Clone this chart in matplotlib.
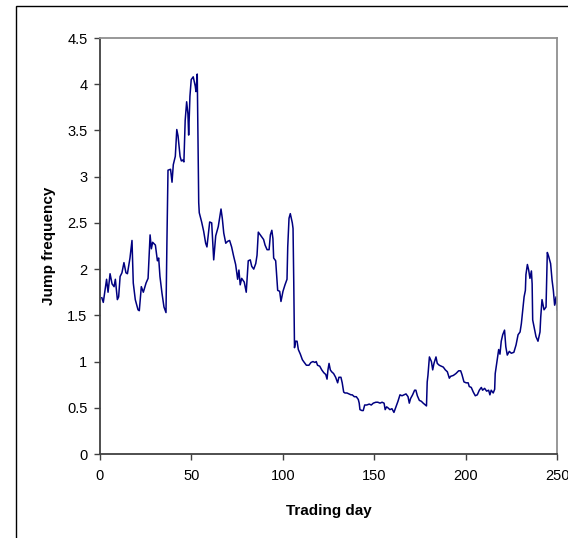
import matplotlib
matplotlib.use("Agg")
import matplotlib.pyplot as plt
from matplotlib.patches import Rectangle

plt.rcParams['font.family'] = ['Liberation Sans', 'DejaVu Sans']

# Jump frequency per trading day
day = [1, 1.8, 3.6, 4.4, 5.5, 6.6, 7.7, 8.4, 9.5, 10.2, 11.0, 12.0, 13.1, 14.2, 15.0,
       16.4, 17.5, 18.2, 19.3, 20.8, 21.5, 22.6, 23.7, 25.2, 26.3, 27.4, 28.1, 28.8,
       30.3, 31.0, 31.4, 32.1, 32.8, 33.9, 35.0, 36.1, 36.6, 37.2, 38.6, 39.4, 40.1,
       41.2, 42.0, 42.7, 43.8, 44.5, 45.2, 45.9, 46.6, 47.4, 48.1, 48.5, 49.2, 49.9,
       51.0, 52.1, 52.5, 53.2, 53.6, 54.0, 54.3, 55.6, 56.7, 57.8, 58.5, 60.0, 61.1,
       62.2, 63.3, 64.7, 66.2, 66.9, 67.7, 68.8, 69.8, 70.9, 72.0, 73.1, 74.2, 75.3,
       76.0, 76.7, 77.5, 78.9, 80.0, 81.1, 82.2, 83.0, 84.1, 85.2, 85.9, 86.6, 87.7,
       88.4, 89.5, 90.3, 91.4, 92.5, 93.2, 94.0, 94.6, 95.0, 96.1, 97.2, 98.3, 99.0,
       100.1, 101.2, 102.3, 102.7, 103.4, 104.1, 105.2, 105.6, 106.0, 106.4, 107.0,
       107.8, 108.5, 109.6, 110.7, 111.4, 112.9, 114.3, 115.4, 116.5, 117.6, 118.3,
       119.0, 120.2, 121.3, 122.4, 123.5, 124.2, 124.7, 125.3, 126.0, 126.7, 127.8,
       128.9, 130.0, 130.7, 131.8, 132.5, 133.3, 134.0, 135.1, 136.2, 137.3, 138.0,
       139.1, 140.2, 141.3, 141.8, 142.2, 143.3, 144.0, 144.8, 145.9, 147.3, 148.4,
       149.5, 150.9, 152.0, 153.2, 154.3, 155.4, 156.0, 156.8, 157.5, 158.6, 159.7,
       160.8, 161.9, 163.0, 164.1, 165.2, 166.3, 167.4, 168.5, 169.2, 169.9, 171.0,
       172.1, 172.8, 173.6, 174.7, 175.8, 176.8, 178.0, 178.6, 179.0, 179.4, 180.2,
       181.3, 182.0, 182.7, 183.8, 184.5, 185.6, 186.7, 187.8, 188.9, 190.0, 191.1,
       191.8, 193.3, 194.7, 196.2, 197.3, 198.0, 199.1, 200.3, 201.4, 202.0, 203.1,
       204.2, 205.3, 206.4, 207.5, 208.6, 209.3, 210.4, 211.5, 212.6, 213.3, 214.0,
       215.1, 215.9, 216.2, 217.0, 218.1, 218.8, 219.5, 220.3, 221.3, 222.0, 222.8,
       223.9, 225.0, 226.4, 227.6, 228.7, 229.8, 230.5, 231.3, 232.0, 232.7, 233.0,
       233.8, 234.5, 235.2, 236.0, 236.4, 236.7, 237.5, 238.5, 239.6, 240.7, 241.1,
       241.8, 242.9, 244.0, 244.7, 245.4, 246.5, 247.3, 248.0, 248.7, 249.5, 250.0]
freq = [1.69, 1.64, 1.89, 1.75, 1.95, 1.84, 1.81, 1.89, 1.67, 1.70, 1.92, 1.96, 2.07, 1.96, 1.95,
        2.12, 2.31, 1.85, 1.67, 1.56, 1.55, 1.81, 1.75, 1.85, 1.90, 2.37, 2.22, 2.29,
        2.26, 2.15, 2.09, 2.12, 1.92, 1.74, 1.59, 1.53, 2.28, 3.07, 3.08, 2.94, 3.13,
        3.22, 3.51, 3.44, 3.22, 3.17, 3.18, 3.16, 3.61, 3.81, 3.68, 3.45, 3.87, 4.05,
        4.08, 3.98, 3.92, 4.11, 3.43, 2.72, 2.61, 2.51, 2.41, 2.28, 2.24, 2.51, 2.50,
        2.10, 2.36, 2.46, 2.65, 2.55, 2.39, 2.28, 2.30, 2.31, 2.24, 2.14, 2.05, 1.89,
        1.99, 1.83, 1.90, 1.86, 1.75, 2.09, 2.10, 2.03, 2.00, 2.06, 2.15, 2.40, 2.37,
        2.35, 2.32, 2.26, 2.21, 2.21, 2.37, 2.42, 2.33, 2.12, 2.09, 1.77, 1.76, 1.65,
        1.76, 1.83, 1.89, 2.24, 2.55, 2.60, 2.50, 2.44, 1.85, 1.15, 1.22,
        1.22, 1.13, 1.08, 1.02, 1.00, 0.96, 0.96, 0.99, 1.00, 0.99, 1.00,
        0.96, 0.95, 0.91, 0.88, 0.86, 0.81, 0.91, 0.98, 0.91, 0.89, 0.87,
        0.83, 0.77, 0.83, 0.83, 0.77, 0.67, 0.66, 0.66, 0.65, 0.64, 0.64,
        0.62, 0.62, 0.59, 0.55, 0.48, 0.47, 0.47, 0.53, 0.53, 0.54, 0.53,
        0.55, 0.56, 0.56, 0.55, 0.56, 0.55, 0.48, 0.51, 0.50, 0.48, 0.49,
        0.45, 0.51, 0.57, 0.64, 0.63, 0.64, 0.65, 0.62, 0.55, 0.60, 0.64,
        0.69, 0.69, 0.63, 0.58, 0.57, 0.55, 0.53, 0.52, 0.78, 0.85, 1.05,
        1.00, 0.91, 0.98, 1.05, 0.98, 0.96, 0.95, 0.94, 0.91, 0.89, 0.82,
        0.84, 0.85, 0.87, 0.90, 0.90, 0.86, 0.78, 0.77, 0.77, 0.73, 0.72,
        0.67, 0.63, 0.64, 0.69, 0.72, 0.69, 0.71, 0.68, 0.69, 0.64, 0.69,
        0.66, 0.70, 0.87, 0.98, 1.13, 1.08, 1.22, 1.29, 1.34, 1.16, 1.07,
        1.11, 1.09, 1.10, 1.18, 1.29, 1.32, 1.41, 1.56, 1.70, 1.77, 1.94,
        2.05, 1.99, 1.90, 1.98, 1.84, 1.45, 1.37, 1.27, 1.22, 1.32, 1.48,
        1.67, 1.56, 1.59, 2.18, 2.14, 2.06, 1.88, 1.77, 1.61, 1.70, 1.56]

xticks = [0, 50, 100, 150, 200, 250]
yticks = [0, 0.5, 1, 1.5, 2, 2.5, 3, 3.5, 4, 4.5]
ytick_labels = ['0', '0.5', '1', '1.5', '2', '2.5', '3', '3.5', '4', '4.5']

fig = plt.figure(figsize=(5.68, 5.38), dpi=100)
ax = fig.add_axes([100 / 568, 1 - 454 / 538, 457 / 568, 416 / 538])

ax.plot(day, freq, color='#000080', linewidth=1.1)

ax.set_xlim(0, 250)
ax.set_ylim(0, 4.5)
ax.set_xticks(xticks)
ax.set_xticklabels([str(t) for t in xticks])
ax.set_yticks(yticks)
ax.set_yticklabels(ytick_labels)

ax.tick_params(axis='both', direction='out', length=4, width=1, colors='#404040',
               labelcolor='black', labelsize=10.5)
ax.tick_params(axis='x', pad=7)
ax.tick_params(axis='y', pad=5)

for side in ['left', 'bottom']:
    ax.spines[side].set_color('#404040')
    ax.spines[side].set_linewidth(1.3)
for side in ['top', 'right']:
    ax.spines[side].set_color('#909090')
    ax.spines[side].set_linewidth(1.3)

ax.set_xlabel('Trading day', fontsize=11, fontweight='bold', labelpad=15)
ax.set_ylabel('Jump frequency', fontsize=11, fontweight='bold', labelpad=8)

# outer chart border
fig.add_artist(Rectangle((16 / 568, -0.5), 1.5, 1.5 - 6 / 538,
                         transform=fig.transFigure, fill=False,
                         edgecolor='black', linewidth=1))

fig.savefig('out.png', dpi=100)
